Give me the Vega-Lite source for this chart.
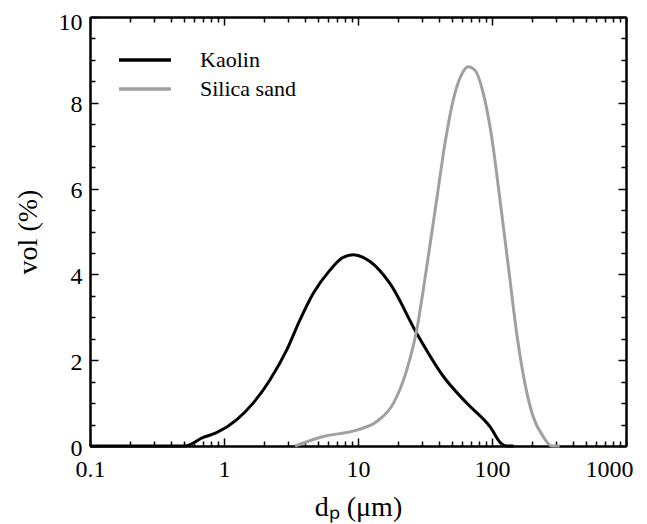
{
  "$schema": "https://vega.github.io/schema/vega-lite/v6.json",
  "width": 536,
  "height": 429,
  "autosize": "none",
  "padding": {"left": 90, "top": 17, "right": 21, "bottom": 78},
  "background": "white",
  "config": {
    "view": {"stroke": null},
    "font": "Liberation Serif",
    "axis": {"grid": false, "domainColor": "black", "domainWidth": 2, "tickColor": "black", "tickWidth": 1.5, "labelColor": "black", "titleColor": "black", "labelFont": "Liberation Serif", "titleFont": "Liberation Serif", "labelFontSize": 24, "titleFontSize": 28, "titleFontWeight": "normal"}
  },
  "data": {"values": [
    {"series": "Kaolin", "d": 0.1, "vol": 0},
    {"series": "Kaolin", "d": 0.51, "vol": 0},
    {"series": "Kaolin", "d": 0.70, "vol": 0.2},
    {"series": "Kaolin", "d": 0.88, "vol": 0.31},
    {"series": "Kaolin", "d": 1.24, "vol": 0.61},
    {"series": "Kaolin", "d": 1.65, "vol": 1.0},
    {"series": "Kaolin", "d": 2.2, "vol": 1.54},
    {"series": "Kaolin", "d": 2.94, "vol": 2.24},
    {"series": "Kaolin", "d": 3.69, "vol": 2.94},
    {"series": "Kaolin", "d": 4.64, "vol": 3.56},
    {"series": "Kaolin", "d": 6.18, "vol": 4.10},
    {"series": "Kaolin", "d": 7.6, "vol": 4.38},
    {"series": "Kaolin", "d": 9.2, "vol": 4.46},
    {"series": "Kaolin", "d": 12.3, "vol": 4.30},
    {"series": "Kaolin", "d": 17.3, "vol": 3.79},
    {"series": "Kaolin", "d": 27.4, "vol": 2.63},
    {"series": "Kaolin", "d": 43.4, "vol": 1.62},
    {"series": "Kaolin", "d": 64.7, "vol": 1.0},
    {"series": "Kaolin", "d": 96.6, "vol": 0.45},
    {"series": "Kaolin", "d": 118, "vol": 0.05},
    {"series": "Kaolin", "d": 130, "vol": 0},
    {"series": "Kaolin", "d": 145, "vol": 0},
    {"series": "Silica sand", "d": 3.39, "vol": 0},
    {"series": "Silica sand", "d": 5.51, "vol": 0.22},
    {"series": "Silica sand", "d": 9.77, "vol": 0.37},
    {"series": "Silica sand", "d": 13.8, "vol": 0.57},
    {"series": "Silica sand", "d": 18.4, "vol": 1.0},
    {"series": "Silica sand", "d": 23.1, "vol": 1.77},
    {"series": "Silica sand", "d": 27.4, "vol": 2.70},
    {"series": "Silica sand", "d": 32.6, "vol": 4.18},
    {"series": "Silica sand", "d": 38.6, "vol": 5.73},
    {"series": "Silica sand", "d": 44.6, "vol": 7.06},
    {"series": "Silica sand", "d": 51.4, "vol": 8.07},
    {"series": "Silica sand", "d": 58.5, "vol": 8.62},
    {"series": "Silica sand", "d": 66.5, "vol": 8.84},
    {"series": "Silica sand", "d": 74.6, "vol": 8.76},
    {"series": "Silica sand", "d": 86.1, "vol": 8.22},
    {"series": "Silica sand", "d": 99.4, "vol": 7.21},
    {"series": "Silica sand", "d": 114.8, "vol": 5.73},
    {"series": "Silica sand", "d": 132.5, "vol": 4.18},
    {"series": "Silica sand", "d": 152.8, "vol": 2.63},
    {"series": "Silica sand", "d": 176, "vol": 1.46},
    {"series": "Silica sand", "d": 203, "vol": 0.68},
    {"series": "Silica sand", "d": 241, "vol": 0.22},
    {"series": "Silica sand", "d": 279, "vol": 0},
    {"series": "Silica sand", "d": 320, "vol": 0}
  ]},
  "resolve": {"axis": {"x": "independent", "y": "independent"}},
  "layer": [
    {
      "mark": {"type": "point", "opacity": 0},
      "encoding": {
        "x": {"field": "d", "type": "quantitative", "scale": {"type": "log", "domain": [0.1, 1000], "nice": false},
              "axis": {"orient": "bottom", "values": [0.2,0.3,0.4,0.5,0.6,0.7,0.8,0.9,2,3,4,5,6,7,8,9,20,30,40,50,60,70,80,90,200,300,400,500,600,700,800,900], "labels": false, "title": null, "tickSize": -5}},
        "y": {"field": "vol", "type": "quantitative", "scale": {"domain": [0, 10], "nice": false},
              "axis": {"orient": "left", "values": [0.5,1,1.5,2.5,3,3.5,4.5,5,5.5,6.5,7,7.5,8.5,9,9.5], "labels": false, "title": null, "tickSize": -5}}
      }
    },
    {
      "mark": {"type": "point", "opacity": 0},
      "encoding": {
        "x": {"field": "d", "type": "quantitative",
              "axis": {"orient": "top", "values": [0.2,0.3,0.4,0.5,0.6,0.7,0.8,0.9,2,3,4,5,6,7,8,9,20,30,40,50,60,70,80,90,200,300,400,500,600,700,800,900], "labels": false, "title": null, "tickSize": -5}},
        "y": {"field": "vol", "type": "quantitative",
              "axis": {"orient": "right", "values": [0.5,1,1.5,2.5,3,3.5,4.5,5,5.5,6.5,7,7.5,8.5,9,9.5], "labels": false, "title": null, "tickSize": -5}}
      }
    },
    {
      "mark": {"type": "point", "opacity": 0},
      "encoding": {
        "x": {"field": "d", "type": "quantitative",
              "axis": {"orient": "top", "values": [0.1,1,10,100,1000], "labels": false, "title": null, "tickSize": -8}},
        "y": {"field": "vol", "type": "quantitative",
              "axis": {"orient": "right", "values": [0,2,4,6,8,10], "labels": false, "title": null, "tickSize": -8}}
      }
    },
    {
      "mark": {"type": "line", "strokeWidth": 3, "interpolate": "monotone"},
      "encoding": {
        "x": {"field": "d", "type": "quantitative",
              "axis": {"orient": "bottom", "values": [0.1,1,10,100,1000], "format": "~g", "tickSize": -8, "labelPadding": 19, "labelFlush": false,
                       "labelOffset": {"condition": {"test": "datum.value >= 1000", "value": -17}, "value": 0},
                       "title": "dₚ (μm)", "titlePadding": 12}},
        "y": {"field": "vol", "type": "quantitative",
              "axis": {"orient": "left", "values": [0,2,4,6,8,10], "format": "d", "tickSize": -8, "labelPadding": 16,
                       "labelOffset": {"condition": {"test": "datum.value >= 10", "value": 5}, "value": 2},
                       "title": "vol (%)", "titlePadding": 16}},
        "color": {"field": "series", "type": "nominal",
                  "scale": {"domain": ["Kaolin", "Silica sand"], "range": ["#000000", "#a0a0a0"]},
                  "legend": {"title": null, "orient": "none", "legendX": 44, "legendY": 32, "padding": 0,
                             "symbolType": "M-5,0H5", "symbolSize": 108, "symbolStrokeWidth": 3.5,
                             "labelFont": "Liberation Serif", "labelFontSize": 22, "labelColor": "black",
                             "labelOffset": 44, "rowPadding": 7}}
      }
    }
  ]
}
